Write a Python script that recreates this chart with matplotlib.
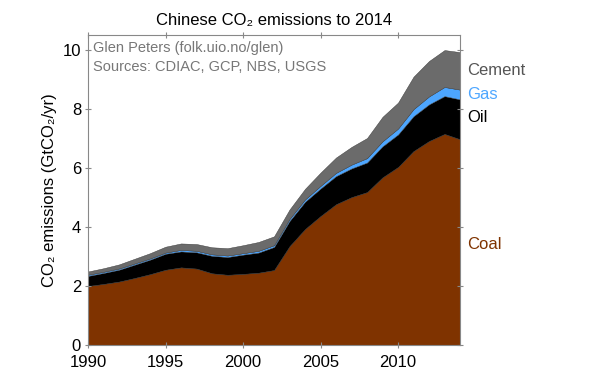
import matplotlib
matplotlib.use("Agg")
import matplotlib.pyplot as plt

plt.rcParams['font.family'] = ['Liberation Sans', 'DejaVu Sans']

# Dados (GtCO2/yr)
years = list(range(1990, 2015))
coal = [2.00, 2.07, 2.15, 2.27, 2.40, 2.55, 2.63, 2.59, 2.43, 2.38, 2.41, 2.45, 2.54,
        3.35, 3.93, 4.37, 4.77, 5.01, 5.18, 5.68, 6.03, 6.57, 6.91, 7.15, 6.97]
oil = [0.34, 0.37, 0.40, 0.45, 0.49, 0.54, 0.54, 0.55, 0.59, 0.60, 0.65, 0.68, 0.78,
       0.85, 0.92, 0.93, 0.95, 0.97, 1.00, 1.05, 1.10, 1.18, 1.24, 1.28, 1.35]
gas = [0.04, 0.04, 0.04, 0.04, 0.04, 0.04, 0.05, 0.05, 0.05, 0.05, 0.05, 0.06, 0.06,
       0.07, 0.08, 0.09, 0.11, 0.13, 0.15, 0.17, 0.20, 0.24, 0.27, 0.31, 0.33]
cement = [0.11, 0.12, 0.14, 0.16, 0.18, 0.20, 0.22, 0.23, 0.24, 0.25, 0.27, 0.30, 0.30,
          0.32, 0.36, 0.45, 0.52, 0.60, 0.68, 0.83, 0.88, 1.10, 1.20, 1.25, 1.27]

labels = ["Coal", "Oil", "Gas", "Cement"]
colors = ["#7f3300", "#000000", "#4da6ff", "#6b6b6b"]
label_colors = ["#7f3300", "#000000", "#4da6ff", "#555555"]
label_y = [3.4, 7.7, 8.5, 9.3]

fig = plt.figure(figsize=(6, 3.92), dpi=100)
ax = fig.add_axes([0.1467, 0.1199, 0.62, 0.7908])

ax.stackplot(years, coal, oil, gas, cement, colors=colors, linewidth=0.3,
             edgecolor="#333333")

ax.set_xlim(1990, 2014)
ax.set_ylim(0, 10.5)
ax.set_xticks([1990, 1995, 2000, 2005, 2010])
ax.set_yticks([0, 2, 4, 6, 8, 10])
ax.tick_params(direction="inout", length=4, width=0.8, color="#888888",
               labelsize=12, top=True, right=True)
ax.tick_params(axis="x", pad=5)
ax.tick_params(axis="y", pad=3)
for s in ax.spines.values():
    s.set_color("#888888")
    s.set_linewidth(0.8)

ax.set_title("Chinese CO₂ emissions to 2014", fontsize=12, pad=7)
ax.set_ylabel("CO₂ emissions (GtCO₂/yr)", fontsize=12, labelpad=4)

ax.text(0.013, 0.958, "Glen Peters (folk.uio.no/glen)", transform=ax.transAxes,
        fontsize=10.5, color="#777777", va="center", ha="left")
ax.text(0.013, 0.897, "Sources: CDIAC, GCP, NBS, USGS", transform=ax.transAxes,
        fontsize=10.5, color="#777777", va="center", ha="left")

for lab, c, yv in zip(labels, label_colors, label_y):
    ax.text(1.02, yv, lab, transform=ax.get_yaxis_transform(), fontsize=12,
            color=c, va="center", ha="left")

fig.savefig("out.png", dpi=100)
